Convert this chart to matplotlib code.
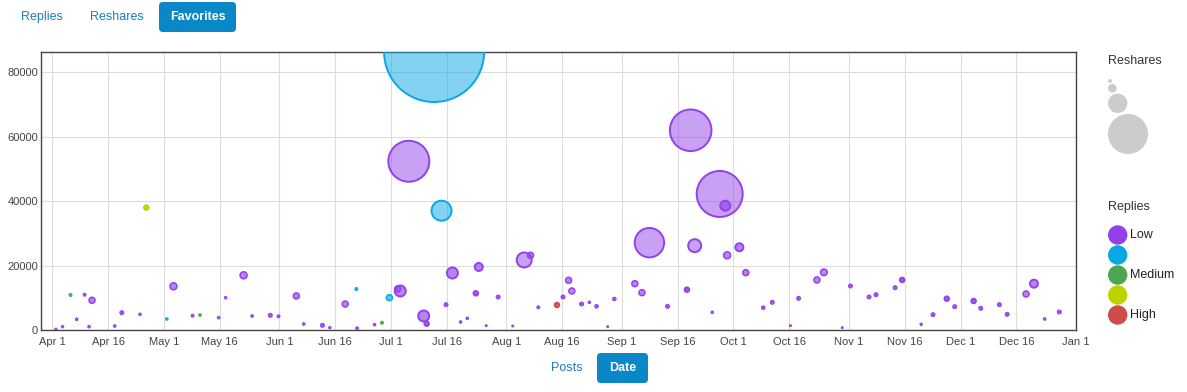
import matplotlib
matplotlib.use("Agg")
import matplotlib.pyplot as plt
import matplotlib.dates as mdates
from matplotlib.colors import to_rgba
from matplotlib.patches import Circle, FancyBboxPatch
from matplotlib.ticker import FuncFormatter
import numpy as np
import pandas as pd

plt.rcParams["font.family"] = ["Liberation Sans", "DejaVu Sans"]

# one entry per post
dates = [
    "2013-04-02 00:00", "2013-04-03 19:00", "2013-04-05 22:00", "2013-04-07 14:00",
    "2013-04-09 17:00", "2013-04-10 22:00", "2013-04-11 17:00", "2013-04-17 19:00",
    "2013-04-19 17:00", "2013-04-24 14:00", "2013-04-26 07:00", "2013-05-01 19:00",
    "2013-05-03 14:00", "2013-05-08 17:00", "2013-05-10 17:00", "2013-05-15 17:00",
    "2013-05-17 14:00", "2013-05-22 10:00", "2013-05-24 17:00", "2013-05-29 14:00",
    "2013-05-31 19:00", "2013-06-05 14:00", "2013-06-07 14:00", "2013-06-12 14:00",
    "2013-06-14 14:00", "2013-06-18 17:00", "2013-06-21 17:00", "2013-06-21 22:00",
    "2013-06-26 14:00", "2013-06-28 14:00", "2013-06-30 14:00", "2013-07-03 12:00",
    "2013-07-02 19:00", "2013-07-05 19:00", "2013-07-09 19:00", "2013-07-10 14:00",
    "2013-07-12 14:00", "2013-07-14 14:00", "2013-07-15 19:00", "2013-07-17 12:00",
    "2013-07-19 17:00", "2013-07-21 12:00", "2013-07-23 19:00", "2013-07-24 14:00",
    "2013-07-26 14:00", "2013-07-29 19:00", "2013-08-02 17:00", "2013-08-05 19:00",
    "2013-08-07 12:00", "2013-08-09 14:00", "2013-08-14 14:00", "2013-08-16 05:00",
    "2013-08-17 17:00", "2013-08-18 14:00", "2013-08-21 05:00", "2013-08-23 07:00",
    "2013-08-25 05:00", "2013-08-28 05:00", "2013-08-30 00:00", "2013-09-04 12:00",
    "2013-09-06 10:00", "2013-09-08 10:00", "2013-09-13 07:00", "2013-09-18 12:00",
    "2013-09-19 12:00", "2013-09-20 14:00", "2013-09-25 07:00", "2013-09-27 07:00",
    "2013-09-28 19:00", "2013-09-29 07:00", "2013-10-02 14:00", "2013-10-04 07:00",
    "2013-10-09 00:00", "2013-10-11 10:00", "2013-10-16 07:00", "2013-10-18 12:00",
    "2013-10-23 10:00", "2013-10-25 07:00", "2013-10-30 05:00", "2013-11-01 10:00",
    "2013-11-06 10:00", "2013-11-08 07:00", "2013-11-13 10:00", "2013-11-15 07:00",
    "2013-11-20 10:00", "2013-11-23 14:00", "2013-11-27 07:00", "2013-11-29 10:00",
    "2013-12-04 12:00", "2013-12-06 10:00", "2013-12-11 10:00", "2013-12-13 12:00",
    "2013-12-18 14:00", "2013-12-20 17:00", "2013-12-23 14:00", "2013-12-27 12:00",
]
favorites = [
    200, 1030, 10870, 3320, 10960, 1030, 9220, 1240,
    5380, 4870, 38000, 3420, 13570, 4450, 4650, 3830,
    10030, 16980, 4350, 4560, 4250, 10560, 1860, 1450,
    720, 8070, 12730, 520, 1650, 2270, 10030, 12110,
    12730, 52380, 4350, 1960, 86300, 37040, 7860, 17700,
    2480, 3620, 11390, 19560, 1340, 10250, 1240, 21740,
    23190, 7050, 7760, 10250, 15430, 12110, 8070, 8590,
    7350, 1030, 9630, 14380, 11590, 27110, 7350, 12520,
    62000, 26180, 5490, 42230, 38600, 23190, 25680, 17800,
    6930, 8590, 1340, 9830, 15530, 17900, 720, 13660,
    10250, 10960, 13130, 15530, 1770, 4750, 9720, 7240,
    9000, 6740, 7860, 4870, 11180, 14380, 3420, 5590,
]
reshares = [
    6, 6, 9, 7, 9, 7, 36, 7,
    16, 7, 25, 7, 49, 9, 7, 7,
    7, 49, 7, 16, 9, 36, 7, 16,
    6, 36, 9, 9, 7, 9, 36, 121,
    36, 1681, 121, 25, 10000, 400, 16, 121,
    7, 7, 25, 64, 4, 16, 4, 225,
    36, 9, 25, 16, 36, 36, 16, 7,
    13, 4, 13, 36, 36, 864, 16, 25,
    1731, 169, 7, 2116, 100, 49, 64, 36,
    13, 16, 4, 16, 36, 44, 4, 16,
    16, 16, 16, 25, 6, 16, 25, 16,
    25, 16, 16, 16, 36, 64, 7, 16,
]
# 0 = low ... 4 = high
reply_level = [
    0, 0, 2, 0, 0, 0, 0, 0,
    0, 0, 3, 1, 0, 0, 2, 0,
    0, 0, 0, 0, 0, 0, 0, 0,
    0, 0, 1, 0, 0, 2, 1, 0,
    0, 0, 0, 0, 1, 1, 0, 0,
    0, 0, 0, 0, 0, 0, 0, 0,
    0, 0, 4, 0, 0, 0, 0, 0,
    0, 0, 0, 0, 0, 0, 0, 0,
    0, 0, 0, 0, 0, 0, 0, 0,
    0, 0, 0, 0, 0, 0, 0, 0,
    0, 0, 0, 0, 0, 0, 0, 0,
    0, 0, 0, 0, 0, 0, 0, 0,
]

level_colors = ["#9342ea", "#0aa7e6", "#4aa64f", "#bcd300", "#cf4b4b"]
level_labels = ["Low", "", "Medium", "", "High"]
reshare_legend = [16, 74, 376, 1600]

W, H, DPI = 1187, 392, 100
R_SCALE = 0.5  # bubble radius in px per sqrt(reshares)


def radius_px(v):
    return R_SCALE * np.sqrt(np.asarray(v, dtype=float))


fig = plt.figure(figsize=(W / DPI, H / DPI), dpi=DPI)
fig.patch.set_facecolor("white")

# plot box in pixels: x 41..1076, y 52..330
ax = fig.add_axes([41 / W, (H - 330) / H, (1076 - 41) / W, (330 - 52) / H])

x = pd.to_datetime(dates)
y = np.array(favorites, dtype=float)
r = radius_px(reshares)
order = np.argsort(-r)

cols = [level_colors[k] for k in reply_level]
# small dots read as solid, bigger ones as translucent discs with a ring
alpha = np.where(r >= 6, 0.5, np.where(r >= 3, 0.65, 0.9))
face = [to_rgba(c, a) for c, a in zip(cols, alpha)]
lws = np.where(r >= 4, 1.4, np.where(r >= 2.5, 1.1, 0.7))
sizes = (2 * r * 72 / DPI) ** 2

ax.scatter(x[order], y[order], s=sizes[order],
           facecolors=[face[i] for i in order],
           edgecolors=[cols[i] for i in order],
           linewidths=lws[order], zorder=3)

ax.set_xlim(pd.Timestamp("2013-03-29"), pd.Timestamp("2014-01-01"))
ax.set_ylim(0, max(favorites))
ax.set_yticks([0, 20000, 40000, 60000, 80000])
ax.xaxis.set_major_locator(mdates.DayLocator(bymonthday=[1, 16]))
ax.xaxis.set_major_formatter(FuncFormatter(
    lambda v, pos: "{:%b} {}".format(mdates.num2date(v), mdates.num2date(v).day)))

ax.grid(True, color="#dcdcdc", linewidth=0.8, zorder=0)
ax.set_axisbelow(True)
ax.tick_params(length=0, labelsize=8, labelcolor="#444444")
ax.tick_params(axis="x", pad=5)
ax.tick_params(axis="y", pad=2)
for sp in ax.spines.values():
    sp.set_color("#444444")
    sp.set_linewidth(1.0)

# overlay in pixel coordinates for buttons and legends
ui = fig.add_axes([0, 0, 1, 1])
ui.set_xlim(0, W)
ui.set_ylim(H, 0)
ui.set_axis_off()
ui.patch.set_alpha(0)

link = "#1c7cc0"
btn = "#0a87c7"
ui.text(42, 17, "Replies", color=link, fontsize=9, ha="center", va="center")
ui.text(117, 17, "Reshares", color=link, fontsize=9, ha="center", va="center")
ui.add_patch(FancyBboxPatch((159, 2), 77, 30, boxstyle="round,pad=0,rounding_size=4",
                            fc=btn, ec="none"))
ui.text(197.5, 17, "Favorites", color="white", fontsize=9, fontweight="bold",
        ha="center", va="center")

ui.text(567, 368, "Posts", color=link, fontsize=9, ha="center", va="center")
ui.add_patch(FancyBboxPatch((597, 353), 51, 30, boxstyle="round,pad=0,rounding_size=4",
                            fc=btn, ec="none"))
ui.text(622.5, 368, "Date", color="white", fontsize=9, fontweight="bold",
        ha="center", va="center")

# reshares size legend
ui.text(1108, 61, "Reshares", color="#333333", fontsize=9, ha="left", va="center")
top = 79
for v in reshare_legend:
    rr = float(radius_px(v))
    ui.add_patch(Circle((1108 + rr, top + rr), rr, fc="#cccccc", ec="none"))
    top += 2 * rr + 1

# replies colour legend
ui.text(1108, 207, "Replies", color="#333333", fontsize=9, ha="left", va="center")
for i, (c, lab) in enumerate(zip(level_colors, level_labels)):
    cy = 235 + 20 * i
    ui.add_patch(Circle((1117.7, cy), 9.7, fc=c, ec="none"))
    if lab:
        ui.text(1130, cy, lab, color="#222222", fontsize=9, ha="left", va="center")

fig.savefig("out.png", dpi=DPI, facecolor="white")
